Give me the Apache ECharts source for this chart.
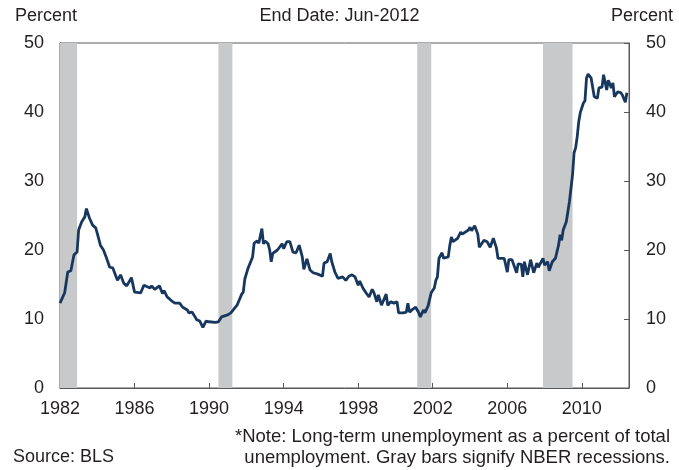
<!DOCTYPE html>
<html>
<head>
<meta charset="utf-8">
<script src="https://cdn.jsdelivr.net/npm/echarts@6/dist/echarts.min.js"></script>
<style>
html,body{margin:0;padding:0;background:#fff;}
#chart{width:679px;height:470px;}
</style>
</head>
<body>
<div id="chart"></div>
<script>
// Long-term unemployment as a percent of total unemployment
const months = [
'1982-01','1982-04','1982-06','1982-08','1982-10','1982-12','1983-01','1983-03','1983-05','1983-06',
'1983-08','1983-10','1983-12','1984-01','1984-03','1984-05','1984-07','1984-09','1984-11','1985-02',
'1985-04','1985-06','1985-08','1985-11','1986-01','1986-05','1986-07','1986-11','1986-12','1987-02',
'1987-05','1987-07','1987-08','1987-10','1988-01','1988-03','1988-06','1988-08','1988-11','1988-12',
'1989-02','1989-04','1989-05','1989-07','1989-09','1989-11','1990-01','1990-05','1990-07','1990-09',
'1991-01','1991-03','1991-07','1991-10','1991-11','1991-12','1992-02','1992-05','1992-06','1992-08',
'1992-09','1992-11','1992-12','1993-01','1993-03','1993-04','1993-05','1993-06','1993-09','1993-12',
'1994-01','1994-03','1994-05','1994-07','1994-09','1994-11','1995-01','1995-02','1995-04','1995-06',
'1995-08','1995-09','1995-11','1996-02','1996-03','1996-05','1996-07','1996-08','1996-10','1996-12',
'1997-03','1997-05','1997-07','1997-09','1997-11','1998-01','1998-02','1998-04','1998-06','1998-08',
'1998-10','1998-11','1999-01','1999-02','1999-04','1999-07','1999-08','1999-10','1999-12','2000-02',
'2000-03','2000-06','2000-08','2000-09','2000-10','2000-12','2001-02','2001-04','2001-05','2001-07',
'2001-08','2001-10','2001-12','2002-02','2002-03','2002-04','2002-05','2002-07','2002-08','2002-11',
'2002-12','2003-01','2003-02','2003-05','2003-07','2003-08','2003-12','2004-01','2004-02','2004-04',
'2004-06','2004-07','2004-10','2004-12','2005-02','2005-04','2005-06','2005-07','2005-09','2005-11',
'2006-01','2006-02','2006-04','2006-05','2006-07','2006-08','2006-10','2006-11','2006-12','2007-02',
'2007-04','2007-06','2007-08','2007-09','2007-12','2008-01','2008-03','2008-04','2008-06','2008-08',
'2008-10','2008-11','2008-12','2009-01','2009-03','2009-05','2009-06','2009-07','2009-08','2009-09',
'2009-10','2009-11','2009-12','2010-02','2010-03','2010-04','2010-05','2010-07','2010-09','2010-11',
'2010-12','2011-02','2011-03','2011-05','2011-06','2011-08','2011-09','2011-10','2011-12','2012-02',
'2012-03','2012-05','2012-06'
];
const values = [
12.3,13.8,16.8,17.0,19.3,19.7,22.9,24.1,24.8,26.0,
24.6,23.6,23.2,22.4,20.7,20.0,18.8,17.5,17.4,15.6,
16.4,15.2,14.8,16.0,13.9,13.8,14.9,14.5,14.8,14.3,
14.8,13.7,14.1,13.2,12.6,12.3,12.3,11.7,11.3,10.9,
11.0,10.3,9.9,9.7,8.8,9.7,9.6,9.5,9.6,10.3,
10.6,10.9,12.0,13.6,13.9,15.8,17.3,19.0,21.0,21.3,
21.0,23.1,20.9,21.3,20.9,20.0,18.3,19.5,20.0,20.9,
20.2,21.2,21.2,19.7,19.6,20.7,19.0,17.2,18.7,17.1,
16.7,16.8,16.5,16.2,18.1,18.3,19.5,18.3,16.8,15.9,
16.1,15.6,16.2,16.4,16.1,14.9,15.5,14.5,13.8,13.2,
14.3,13.9,12.5,13.5,12.0,13.6,12.0,12.5,12.3,12.5,
10.9,10.9,11.0,12.3,11.0,11.4,11.7,10.9,10.3,11.3,
10.9,11.9,13.8,14.5,15.6,16.1,18.8,19.6,18.8,19.0,
20.7,21.9,21.2,21.7,22.6,22.3,22.9,23.3,22.8,23.5,
22.3,20.4,21.4,21.2,20.4,21.7,20.3,18.8,18.8,18.8,
16.8,18.6,18.6,18.8,16.7,18.0,17.9,16.1,18.3,16.4,
18.6,16.7,18.1,17.5,18.8,17.8,18.3,17.0,18.3,18.8,
20.7,22.2,21.4,22.9,24.1,27.0,27.2,30.9,34.1,34.8,
36.4,38.6,39.9,41.3,41.6,44.9,45.5,44.9,42.2,42.0,
43.5,43.6,45.4,43.2,44.6,43.5,44.2,42.2,42.9,42.8,
42.5,41.4,42.8
];
// NBER recessions (first and last month)
const recessions = [
  ['1982-01','1982-11'],
  ['1990-07','1991-03'],
  ['2001-03','2001-11'],
  ['2007-12','2009-06']
];
const xTickYears = [1982,1986,1990,1994,1998,2002,2006,2010];
const yTicks = [0,10,20,30,40,50];

function toYear(s){ const p = s.split('-'); return +p[0] + (+p[1]-1)/12; }

const lineData = months.map((m,i)=>[toYear(m), values[i]]);
const areas = recessions.map(r=>[{xAxis: toYear(r[0])},{xAxis: toYear(r[1]) + 1/12}]);

const FONT = 'Liberation Sans, Arial, sans-serif';
const TXT = '#231f20';
const AX = '#58595b';

const chart = echarts.init(document.getElementById('chart'), null, {renderer:'canvas'});
chart.setOption({
  animation:false,
  backgroundColor:'#ffffff',
  grid:{left:60, right:50, top:43, bottom:82, show:true, borderColor:AX, borderWidth:1, backgroundColor:'transparent'},
  xAxis:{
    type:'value', min:xTickYears[0], max:2012.53, interval:4,
    axisLine:{show:true, lineStyle:{color:AX, width:1}},
    axisTick:{show:true, inside:true, length:5, lineStyle:{color:AX}},
    splitLine:{show:false},
    axisLabel:{showMaxLabel:false, margin:12, color:TXT, fontSize:18, fontFamily:FONT,
      formatter:v=> xTickYears.indexOf(v)>=0 ? String(v) : ''}
  },
  yAxis:[
    {type:'value', position:'left', min:yTicks[0], max:yTicks[yTicks.length-1], interval:10,
     axisLine:{show:true, lineStyle:{color:AX, width:1}},
     axisTick:{show:true, inside:true, length:5, lineStyle:{color:AX}},
     splitLine:{show:false},
     axisLabel:{margin:16, color:TXT, fontSize:18, fontFamily:FONT}},
    {type:'value', position:'right', min:yTicks[0], max:yTicks[yTicks.length-1], interval:10,
     axisLine:{show:true, lineStyle:{color:AX, width:1}},
     axisTick:{show:true, inside:true, length:5, lineStyle:{color:AX}},
     splitLine:{show:false},
     axisLabel:{margin:17, color:TXT, fontSize:18, fontFamily:FONT}}
  ],
  series:[{
    type:'line', data:lineData, showSymbol:false, yAxisIndex:0,
    lineStyle:{color:'#17375e', width:2.8}, z:3,
    markArea:{silent:true, itemStyle:{color:'#c8c9cb'}, data:areas}
  }],
  graphic:[
    {type:'text', left:15, top:7, style:{text:'Percent', font:'18px '+FONT, fill:TXT}},
    {type:'text', right:6, top:7, style:{text:'Percent', font:'18px '+FONT, fill:TXT}},
    {type:'text', left:'center', top:7, style:{text:'End Date: Jun-2012', font:'18px '+FONT, fill:TXT}},
    {type:'text', left:13, top:448, style:{text:'Source: BLS', font:'18px '+FONT, fill:TXT}},
    {type:'text', right:9, top:427, style:{text:'*Note: Long-term unemployment as a percent of total', font:'18.5px '+FONT, fill:TXT}},
    {type:'text', right:9, top:448, style:{text:'unemployment. Gray bars signify NBER recessions.', font:'18.5px '+FONT, fill:TXT}}
  ]
});
</script>
</body>
</html>
